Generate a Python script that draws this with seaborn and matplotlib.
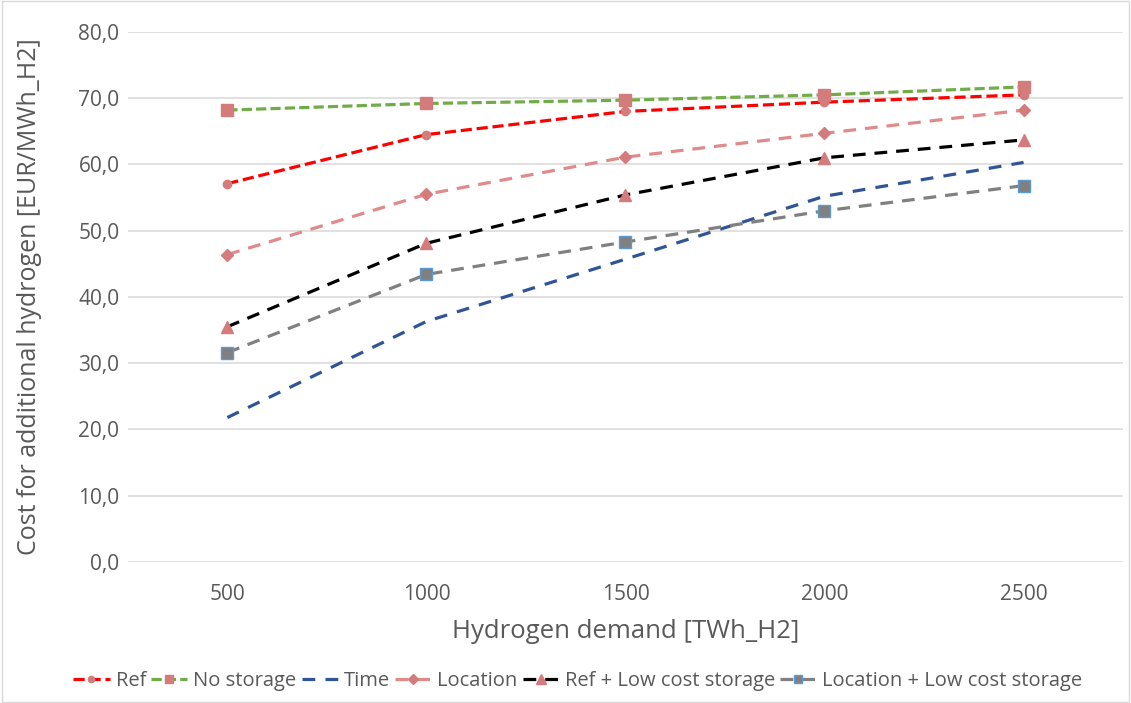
import matplotlib
matplotlib.use("Agg")
import matplotlib.pyplot as plt
import seaborn as sns
import pandas as pd
from matplotlib.ticker import FuncFormatter

# demand levels [TWh_H2]
demand = [500, 1000, 1500, 2000, 2500]

# cost for additional hydrogen [EUR/MWh_H2]
ref = [57.1, 64.5, 68.0, 69.4, 70.5]
no_storage = [68.2, 69.2, 69.7, 70.5, 71.7]
time = [21.8, 36.3, 45.7, 55.2, 60.3]
location = [46.4, 55.5, 61.1, 64.7, 68.2]
ref_low = [35.5, 48.1, 55.4, 61.0, 63.7]
location_low = [31.6, 43.4, 48.3, 53.0, 56.8]

series_names = ["Ref", "No storage", "Time", "Location",
                "Ref + Low cost storage", "Location + Low cost storage"]
series_values = [ref, no_storage, time, location, ref_low, location_low]

marker_red = "#D47B7B"
styles = {
    "Ref": dict(color="#FF0000", dashes=(3.5, 1.5), marker="o", ms=6,
                mfc=marker_red, mec=marker_red),
    "No storage": dict(color="#70AD47", dashes=(3.2, 1.3), marker="s", ms=8,
                       mfc=marker_red, mec=marker_red),
    "Time": dict(color="#2F5597", dashes=(4, 3.2), marker=None),
    "Location": dict(color="#E08A8A", dashes=(4, 2.8), marker="D", ms=6.5,
                     mfc=marker_red, mec=marker_red),
    "Ref + Low cost storage": dict(color="#000000", dashes=(4, 2.8), marker="^", ms=9,
                                   mfc=marker_red, mec=marker_red),
    "Location + Low cost storage": dict(color="#808080", dashes=(4, 2.8), marker="s", ms=8,
                                        mfc="#808080", mec="#5B9BD5"),
}

df = pd.DataFrame({
    "demand": demand * len(series_names),
    "cost": [v for vals in series_values for v in vals],
    "scenario": [n for n in series_names for _ in demand],
})

sns.set_style("white")
plt.rcParams["font.family"] = ["Open Sans", "DejaVu Sans"]

fig = plt.figure(figsize=(11.31, 7.03), dpi=100)
ax = fig.add_axes([0.113, 0.2006, 0.88, 0.754])

for name in series_names:
    st = styles[name]
    sub = df[df["scenario"] == name]
    sns.lineplot(data=sub, x="demand", y="cost", ax=ax, color=st["color"],
                 lw=2.3, label=name, legend=False, zorder=2)
    line = ax.lines[-1]
    line.set_dashes(st["dashes"])
    if st["marker"]:
        line.set_marker(st["marker"])
        line.set_markersize(st["ms"])
        line.set_markerfacecolor(st["mfc"])
        line.set_markeredgecolor(st["mec"])
        line.set_markeredgewidth(1.0)

ax.set_xlim(250, 2750)
ax.set_ylim(0, 80)
ax.set_xticks(demand)
ax.set_yticks(range(0, 81, 10))
ax.yaxis.set_major_formatter(FuncFormatter(lambda v, p: f"{v:.1f}".replace(".", ",")))
ax.grid(axis="y", color="#D9D9D9", lw=1.1)
ax.set_axisbelow(True)
for s in ax.spines.values():
    s.set_visible(False)
ax.tick_params(axis="both", length=0, labelsize=15, colors="#595959")
ax.tick_params(axis="x", pad=16)
ax.tick_params(axis="y", pad=6)

ax.set_xlabel("Hydrogen demand [TWh_H2]", fontsize=18.5, color="#595959", labelpad=10)
ax.set_ylabel("Cost for additional hydrogen [EUR/MWh_H2]", fontsize=18, color="#595959", labelpad=26)

handles, labels = ax.get_legend_handles_labels()
leg = fig.legend(handles, labels, loc="center", bbox_to_anchor=(0.511, 0.031), ncol=6,
                 frameon=False, fontsize=14.5, handlelength=1.8, handletextpad=0.3,
                 columnspacing=0.25, markerscale=0.75, labelcolor="#595959")

# light border around the chart area
fig.patches.append(plt.Rectangle((0.002, 0.002), 0.996, 0.996, transform=fig.transFigure,
                                 fill=False, edgecolor="#D9D9D9", lw=1))

fig.savefig("out.png", dpi=100)
